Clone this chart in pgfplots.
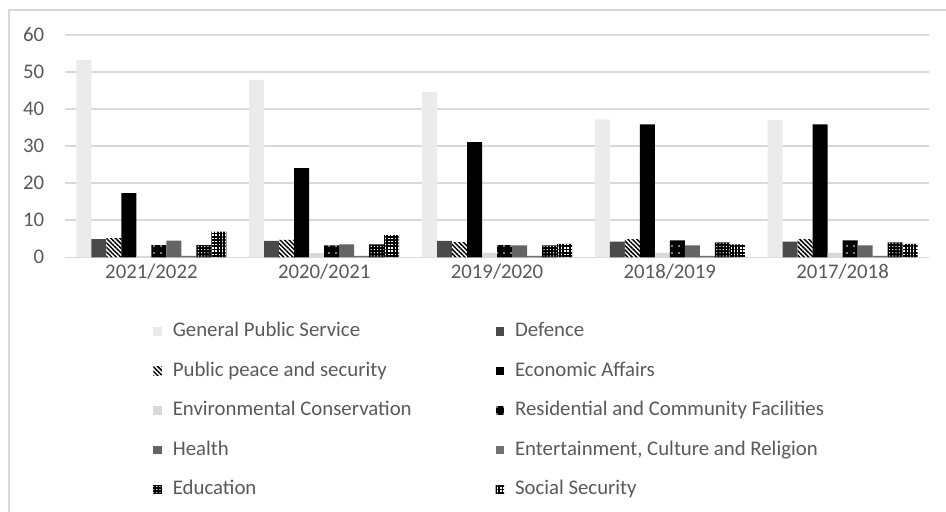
\documentclass[border=0pt]{standalone}
\usepackage{pgfplots}
\pgfplotsset{compat=1.18}
\usepackage{pgfplotstable}
\usepackage{fontspec}
\setmainfont{Carlito}
\usetikzlibrary{patterns,patterns.meta}
\definecolor{txt}{HTML}{595959}
\definecolor{grd}{HTML}{D9D9D9}
\definecolor{cGPS}{HTML}{EBEBEB}
\definecolor{cDef}{HTML}{4A4A4A}
\definecolor{cEnv}{HTML}{D9D9D9}
\definecolor{cHea}{HTML}{646464}
\definecolor{cEnt}{HTML}{707070}

\pgfplotstableread{
x GPS Def PPS Econ Env Res Hea Ent Edu Soc
0 53.2 4.9 5.2 17.3 0.4 3.3 4.5 0.4 3.3 6.9
1 47.9 4.4 4.7 24.1 1.1 3.2 3.5 0.4 3.5 6.0
2 44.6 4.4 4.1 31.1 1.2 3.3 3.2 0.4 3.2 3.6
3 37.2 4.2 4.9 35.9 1.2 4.6 3.2 0.4 4.0 3.5
4 37.0 4.2 4.9 35.9 1.2 4.6 3.2 0.4 4.0 3.6
}\data

\begin{document}
\fontsize{10.4pt}{12pt}\selectfont
\begin{tikzpicture}
\useasboundingbox (0,0) rectangle (473pt,256pt);
\draw[grd, line width=0.75pt] (4.5pt,0) -- (4.5pt,251pt) -- (473pt,251pt);
\begin{axis}[
  at={(32.5pt,127.35pt)}, anchor=south west,
  scale only axis, width=432pt, height=111.15pt,
  xmin=-0.5, xmax=4.5, ymin=0, ymax=60,
  ytick={0,10,...,60},
  xtick={0,1,2,3,4},
  xticklabels={2021/2022,2020/2021,2019/2020,2018/2019,2017/2018},
  ymajorgrids, grid style={grd, line width=0.75pt},
  axis line style={draw=none},
  major tick length=0pt,
  tick label style={font=\fontsize{10.4pt}{12pt}\selectfont, text=txt},
  /pgf/number format/assume math mode=true,
  yticklabel style={xshift=-6.7pt},
  xticklabel style={yshift=0.5pt},
  ybar=0pt, bar width=7.5pt,
  legend columns=2,
  legend cell align=left,
  legend style={at={(0.1019,-0.293)}, anchor=north west, draw=none, fill=none,
    inner sep=0pt, row sep=10.25pt,
    nodes={inner sep=0pt, text height=7pt, text depth=2.5pt, text=txt, font=\fontsize{10.4pt}{12pt}\selectfont},
    /tikz/every odd column/.append style={column sep=5.5pt},
    /tikz/every even column/.append style={column sep=42pt}},
  legend image code/.code={\fill[#1] (0pt,-1.6pt) rectangle (4.2pt,2.6pt);},
]
\addplot[draw=none, fill=cGPS] table[x=x,y=GPS]{\data};
\addlegendentry{General Public Service}
\addplot[draw=none, fill=cDef] table[x=x,y=Def]{\data};
\addlegendentry{Defence}
\addplot[draw=none, fill=white, postaction={pattern={Lines[angle=-45,distance=1.6pt,line width=0.75pt]}, pattern color=black}] table[x=x,y=PPS]{\data};
\addlegendentry{Public peace and security}
\addplot[draw=none, fill=black] table[x=x,y=Econ]{\data};
\addlegendentry{Economic Affairs}
\addplot[draw=none, fill=cEnv] table[x=x,y=Env]{\data};
\addlegendentry{Environmental Conservation}
\addplot[draw=none, fill=black, postaction={pattern={Dots[distance=3.5pt,radius=0.4pt]}, pattern color=white}] table[x=x,y=Res]{\data};
\addlegendentry{Residential and Community Facilities}
\addplot[draw=none, fill=cHea] table[x=x,y=Hea]{\data};
\addlegendentry{Health}
\addplot[draw=none, fill=cEnt] table[x=x,y=Ent]{\data};
\addlegendentry{Entertainment, Culture and Religion}
\addplot[draw=none, fill=black, postaction={pattern={Dots[distance=1.6pt,radius=0.35pt]}, pattern color=white}] table[x=x,y=Edu]{\data};
\addlegendentry{Education}
\addplot[draw=none, fill=white, postaction={pattern={Hatch[distance=1.6pt,line width=0.9pt,angle=0]}, pattern color=black}] table[x=x,y=Soc]{\data};
\addlegendentry{Social Security}
\end{axis}
\end{tikzpicture}
\end{document}
